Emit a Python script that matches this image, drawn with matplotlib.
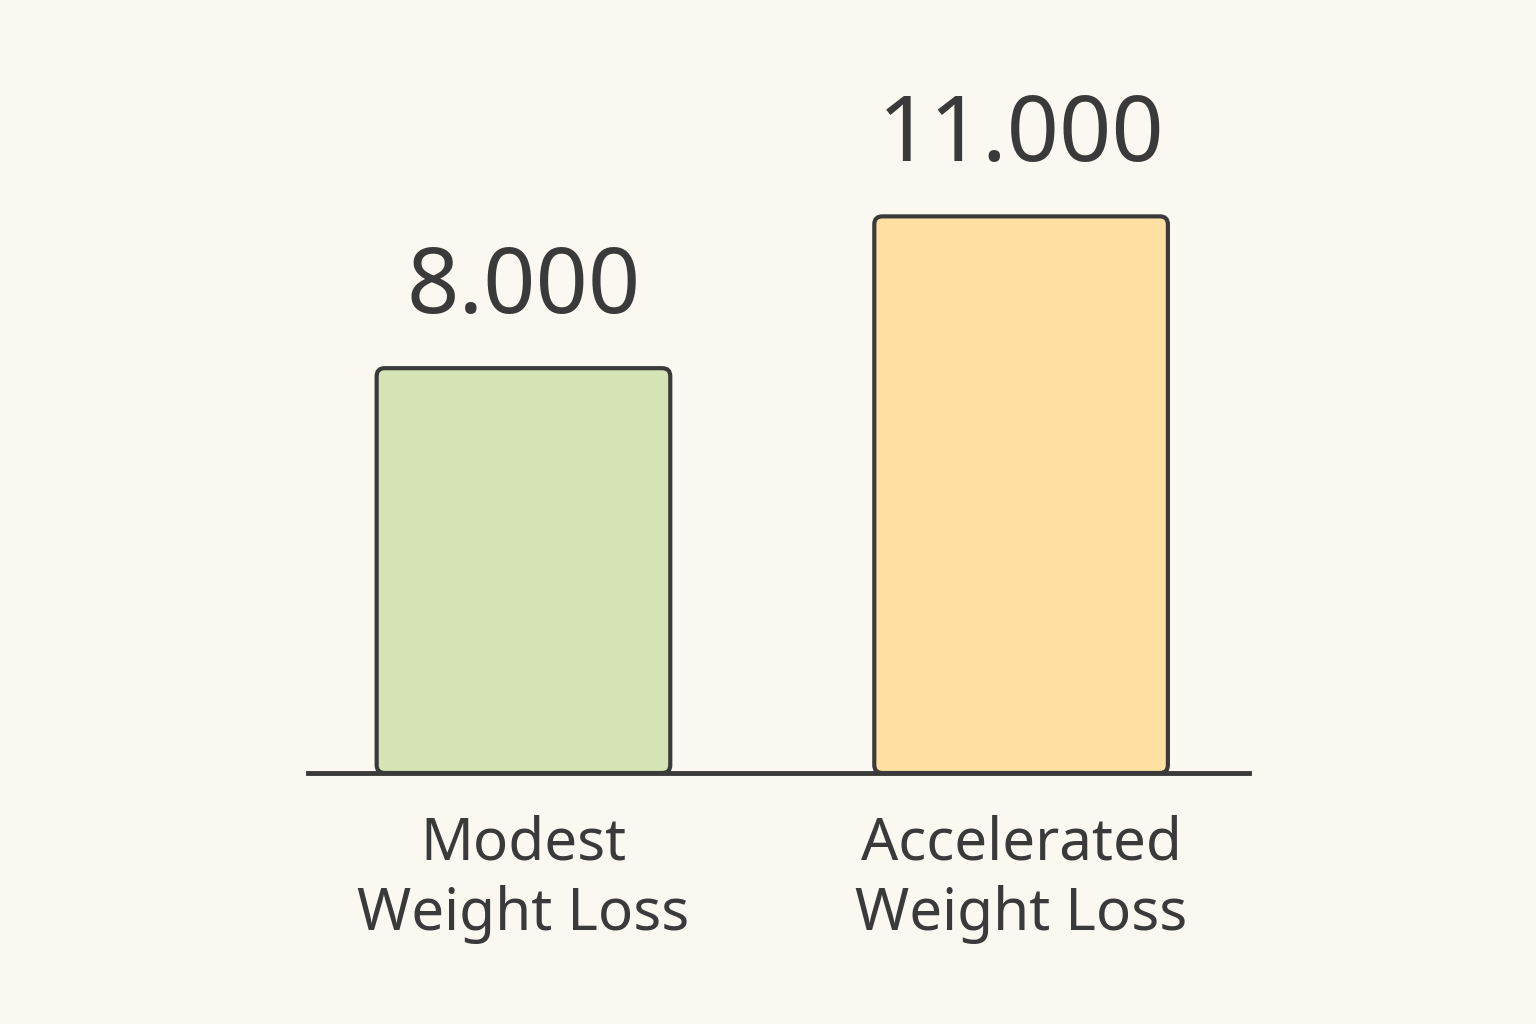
import matplotlib.pyplot as plt
from matplotlib.patches import FancyBboxPatch

categories = ["Modest\nWeight Loss", "Accelerated\nWeight Loss"]
values = [8000, 11000]
labels = ["8.000", "11.000"]
colors = ["#d6e4b5", "#fde0a2"]

ink = "#3a3a3a"
bg = "#fbf8f2"
plt.rcParams['font.family'] = ['Noto Sans', 'DejaVu Sans']

fig = plt.figure(figsize=(15.36, 10.24), dpi=100, facecolor=bg)
ax = fig.add_axes([308 / 1536, 251 / 1024, 941 / 1536, 673 / 1024])
ax.set_facecolor(bg)
ax.set_xlim(-0.433, 1.458)
ax.set_ylim(0, 13300)

width = 0.59
for i, (v, c, lab) in enumerate(zip(values, colors, labels)):
    box = FancyBboxPatch((i - width / 2, 0), width, v,
                         boxstyle="round,pad=0,rounding_size=0.016",
                         mutation_aspect=9900, facecolor=c, edgecolor=ink,
                         linewidth=3, zorder=2)
    ax.add_patch(box)
    ax.annotate(lab, (i, v), xytext=(0, 24), textcoords="offset points",
                ha="center", va="bottom", fontsize=66, fontweight="semibold",
                color=ink)
    ax.annotate(categories[i], (i, 0), xytext=(0, -30), textcoords="offset points",
                ha="center", va="top", fontsize=42, fontweight="medium",
                color=ink, linespacing=1.25)

ax.axhline(0, color=ink, linewidth=3.5, zorder=3, clip_on=False)
for s in ax.spines.values():
    s.set_visible(False)
ax.set_xticks([])
ax.set_yticks([])

fig.savefig("out.png", dpi=100, facecolor=bg)
